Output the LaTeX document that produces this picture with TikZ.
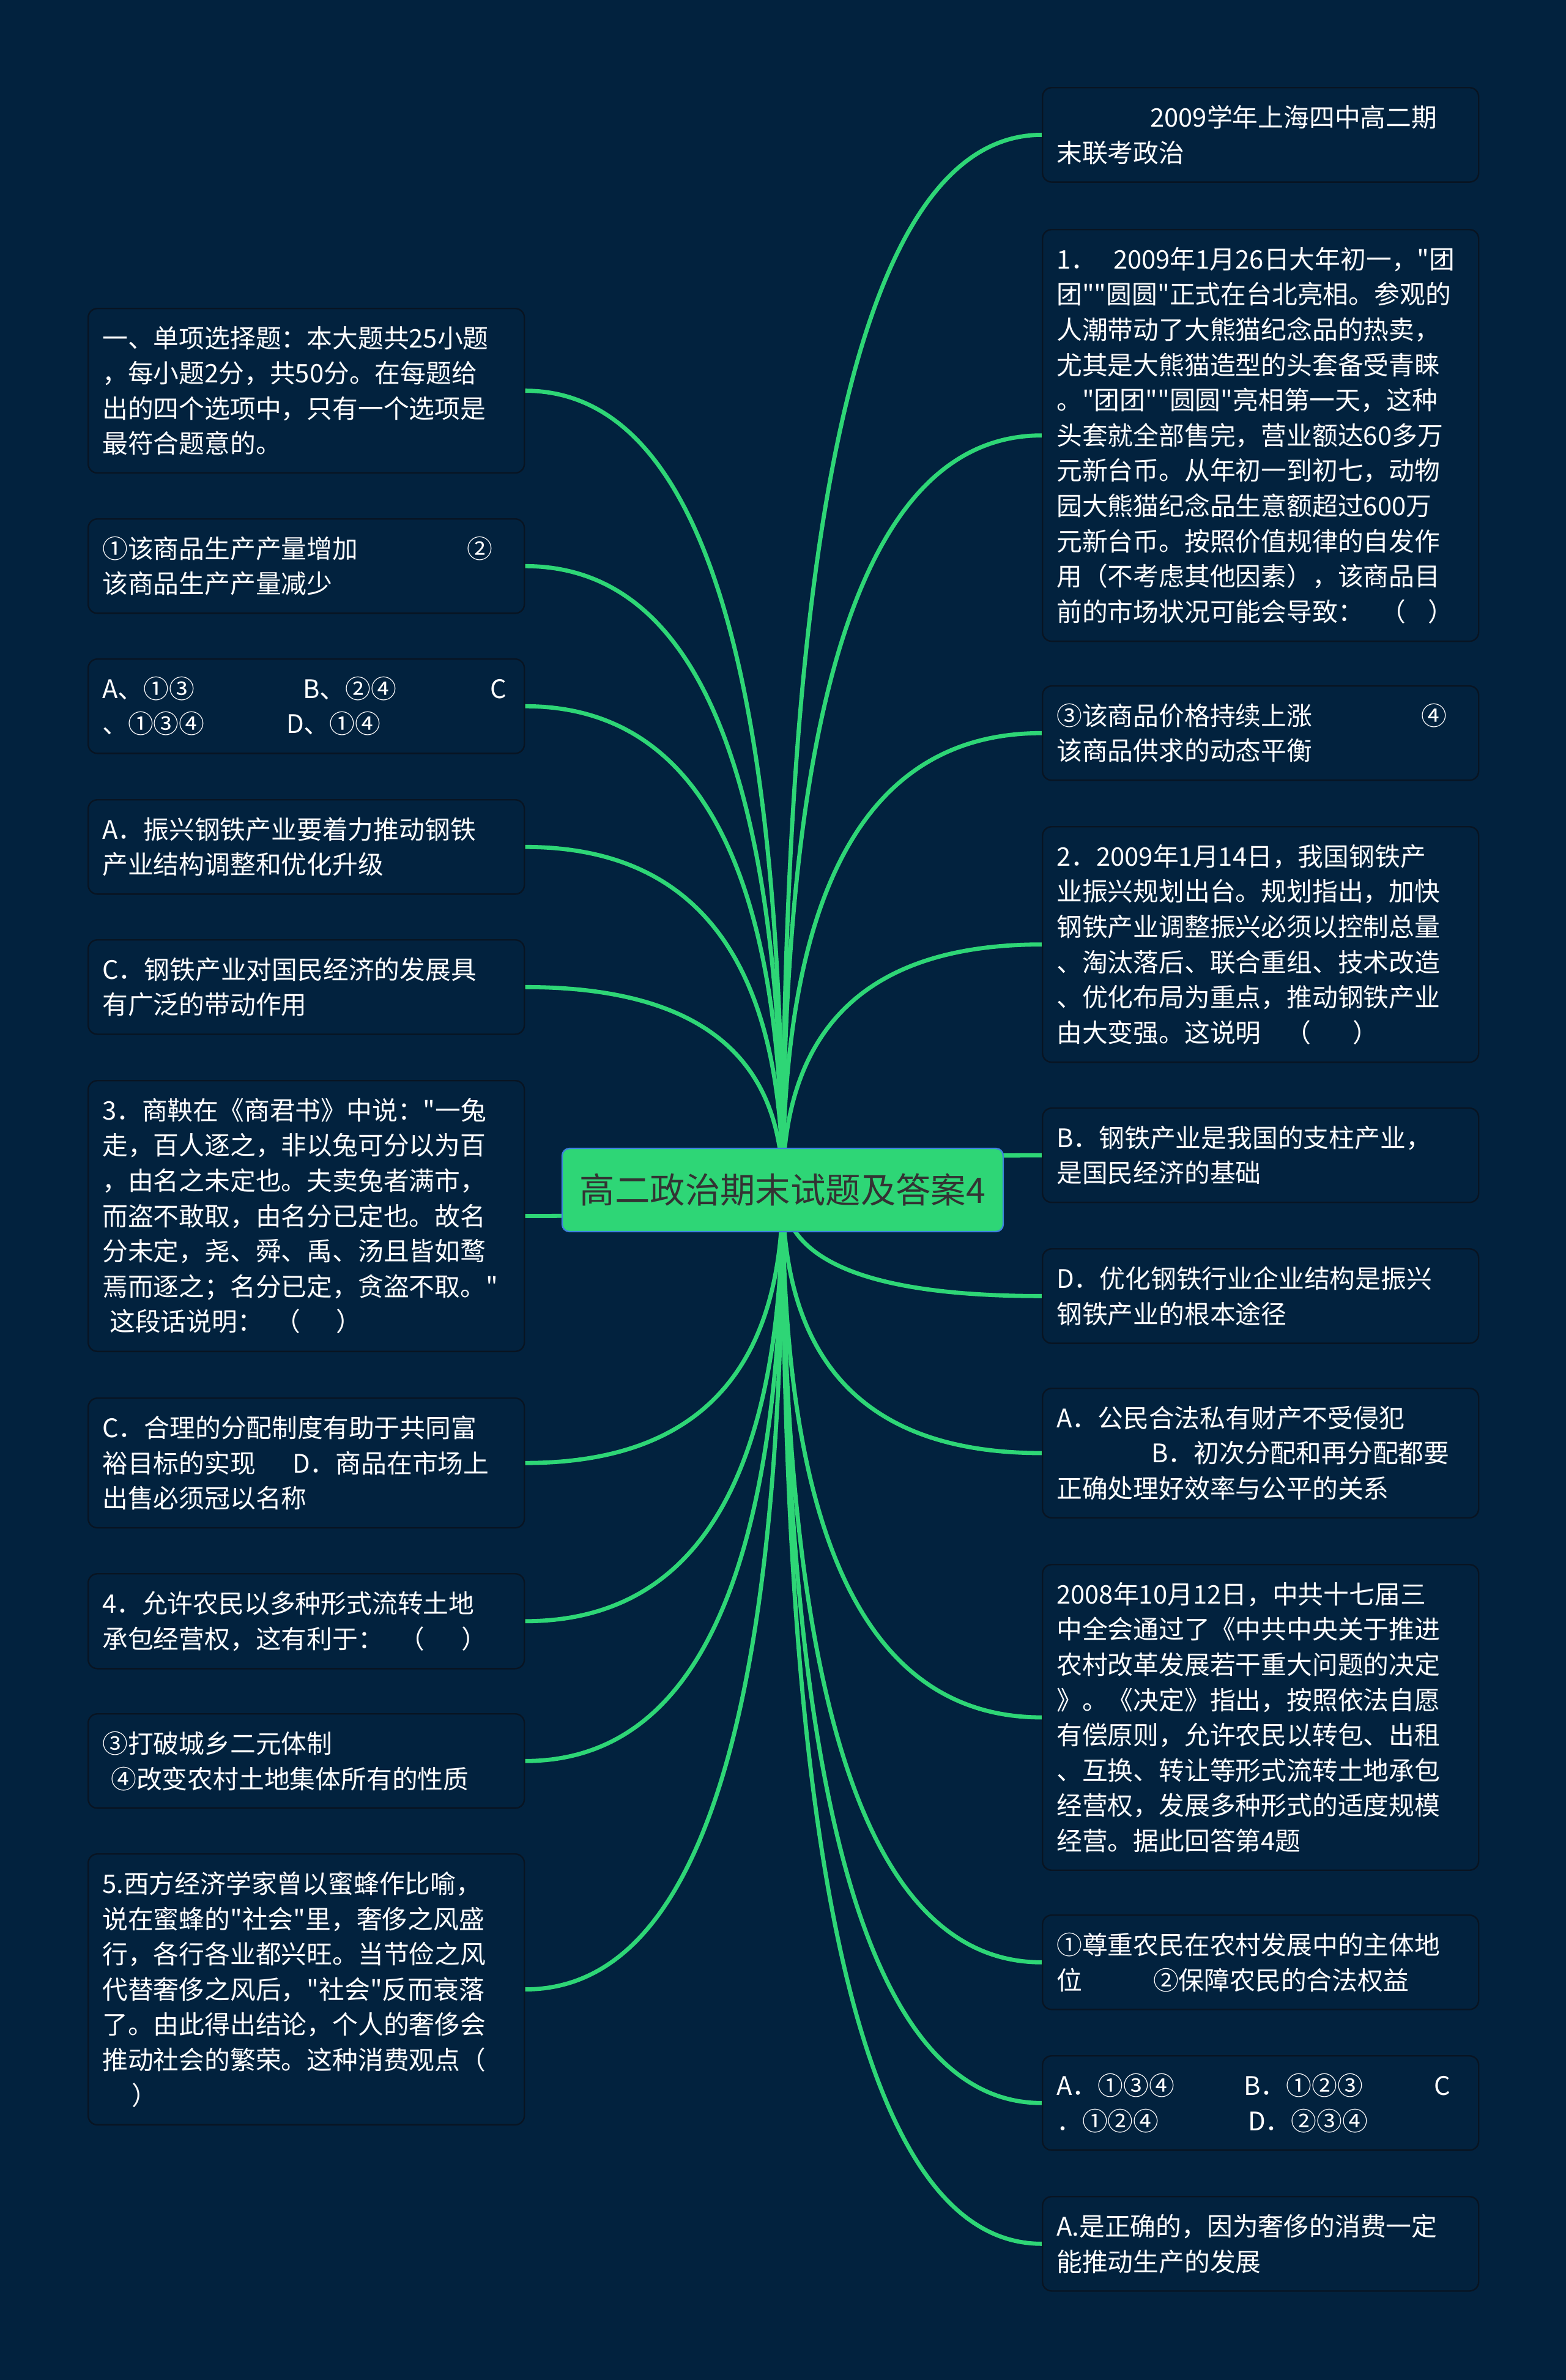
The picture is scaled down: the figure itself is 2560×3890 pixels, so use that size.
\documentclass[tikz,border=0pt]{standalone}
\usepackage{fontspec}
\newfontfamily\cjk{Noto Sans CJK SC}
\usetikzlibrary{calc,backgrounds}

\definecolor{navy}{RGB}{2,34,62}
\definecolor{boxline}{RGB}{8,20,34}
\definecolor{branch}{RGB}{46,214,118}
\definecolor{hubline}{RGB}{60,130,220}
\definecolor{hubtext}{RGB}{51,51,51}

\tikzset{
  leaf/.style={draw=boxline,line width=0.6pt,fill=navy,rounded corners=3.75pt,text=white,
    font=\cjk\fontsize{10.45}{14.4}\selectfont,text width=166.75pt,
    inner xsep=5.75pt,inner ysep=7.2pt,align=left,anchor=north west},
  hub/.style={draw=hubline,line width=0.6pt,fill=branch,rounded corners=3pt,text=hubtext,
    font=\cjk\fontsize{14.35}{17}\selectfont,minimum width=180.25pt,minimum height=34pt,inner sep=0pt},
  link/.style={draw=branch,line width=1.7pt}
}

\begin{document}
\begin{tikzpicture}[x=0.25pt,y=-0.25pt]
\useasboundingbox (0,0) rectangle (2560,3890);
% central topic
\node[hub] (hub) at (1279.5,1945) {高二政治期末试题及答案4};
% right column
\node[leaf] (r1) at (1703,142) {\hspace*{38.25pt}2009学年上海四中高二期\\末联考政治};
\node[leaf] (r2) at (1703,374) {1．\ \ 2009年1月26日大年初一，"团\\团""圆圆"正式在台北亮相。参观的\\人潮带动了大熊猫纪念品的热卖，\\尤其是大熊猫造型的头套备受青睐\\。"团团""圆圆"亮相第一天，这种\\头套就全部售完，营业额达60多万\\元新台币。从年初一到初七，动物\\园大熊猫纪念品生意额超过600万\\元新台币。按照价值规律的自发作\\用（不考虑其他因素），该商品目\\前的市场状况可能会导致：\hspace{7pt}（\hspace{9pt}）};
\node[leaf] (r3) at (1703,1120) {\makebox[149pt][l]{③该商品价格持续上涨}④\\该商品供求的动态平衡};
\node[leaf] (r4) at (1703,1350) {2．2009年1月14日，我国钢铁产\\业振兴规划出台。规划指出，加快\\钢铁产业调整振兴必须以控制总量\\、淘汰落后、联合重组、技术改造\\、优化布局为重点，推动钢铁产业\\由大变强。这说明\hspace{10pt}（\hspace{17pt}）};
\node[leaf] (r5) at (1703,1810) {B．钢铁产业是我国的支柱产业，\\是国民经济的基础};
\node[leaf] (r6) at (1703,2040) {D．优化钢铁行业企业结构是振兴\\钢铁产业的根本途径};
\node[leaf] (r7) at (1703,2268) {A．公民合法私有财产不受侵犯\\\hspace*{38.75pt}B．初次分配和再分配都要\\正确处理好效率与公平的关系};
\node[leaf] (r8) at (1703,2556) {2008年10月12日，中共十七届三\\中全会通过了《中共中央关于推进\\农村改革发展若干重大问题的决定\\》。《决定》指出，按照依法自愿\\有偿原则，允许农民以转包、出租\\、互换、转让等形式流转土地承包\\经营权，发展多种形式的适度规模\\经营。据此回答第4题};
\node[leaf] (r9) at (1703,3129) {①尊重农民在农村发展中的主体地\\\makebox[39.5pt][l]{位}②保障农民的合法权益};
\node[leaf] (r10) at (1703,3359) {\makebox[76.5pt][l]{A．①③④}\makebox[77.75pt][l]{B．①②③}C\\\makebox[78.25pt][l]{．①②④}D．②③④};
\node[leaf] (r11) at (1703,3589) {A.是正确的，因为奢侈的消费一定\\能推动生产的发展};
% left column
\node[leaf] (l1) at (143,503) {一、单项选择题：本大题共25小题\\，每小题2分，共50分。在每题给\\出的四个选项中，只有一个选项是\\最符合题意的。};
\node[leaf] (l2) at (143,847) {\makebox[149pt][l]{①该商品生产产量增加}②\\该商品生产产量减少};
\node[leaf] (l3) at (143,1076) {\makebox[82pt][l]{A、①③}\makebox[76.5pt][l]{B、②④}C\\\makebox[75.25pt][l]{、①③④}D、①④};
\node[leaf] (l4) at (143,1306) {A．振兴钢铁产业要着力推动钢铁\\产业结构调整和优化升级};
\node[leaf] (l5) at (143,1535) {C．钢铁产业对国民经济的发展具\\有广泛的带动作用};
\node[leaf] (l6) at (143,1765) {3．商鞅在《商君书》中说："一兔\\走，百人逐之，非以兔可分以为百\\，由名之未定也。夫卖兔者满市，\\而盗不敢取，由名分已定也。故名\\分未定，尧、舜、禹、汤且皆如鹜\\焉而逐之；名分已定，贪盗不取。"\\\hspace*{3pt}这段话说明：\hspace{5pt}（\hspace{14.5pt}）};
\node[leaf] (l7) at (143,2284) {C．合理的分配制度有助于共同富\\\makebox[77.75pt][l]{裕目标的实现}D．商品在市场上\\出售必须冠以名称};
\node[leaf] (l8) at (143,2571) {4．允许农民以多种形式流转土地\\承包经营权，这有利于：\hspace{6.5pt}（\hspace{15pt}）};
\node[leaf] (l9) at (143,2800) {③打破城乡二元体制\\\hspace*{3.5pt}④改变农村土地集体所有的性质};
\node[leaf] (l10) at (143,3029) {5.西方经济学家曾以蜜蜂作比喻，\\说在蜜蜂的"社会"里，奢侈之风盛\\行，各行各业都兴旺。当节俭之风\\代替奢侈之风后，"社会"反而衰落\\了。由此得出结论，个人的奢侈会\\推动社会的繁荣。这种消费观点（\\\hspace*{12pt}）};
% branches behind the boxes
\begin{scope}[on background layer]
\fill[navy] (0,0) rectangle (2560,3890);
\foreach \nd in {r1,r2,r3,r4,r5,r6,r7,r8,r9,r10,r11} {
  \coordinate (k) at (hub.center|-\nd.west);
  \draw[link] (hub.center) .. controls ($(hub.center)!0.667!(k)$) and ($(\nd.west)!0.667!(k)$) .. (\nd.west);
}
\foreach \nd in {l1,l2,l3,l4,l5,l6,l7,l8,l9,l10} {
  \coordinate (k) at (hub.center|-\nd.east);
  \draw[link] (hub.center) .. controls ($(hub.center)!0.667!(k)$) and ($(\nd.east)!0.667!(k)$) .. (\nd.east);
}
\end{scope}
\end{tikzpicture}
\end{document}
